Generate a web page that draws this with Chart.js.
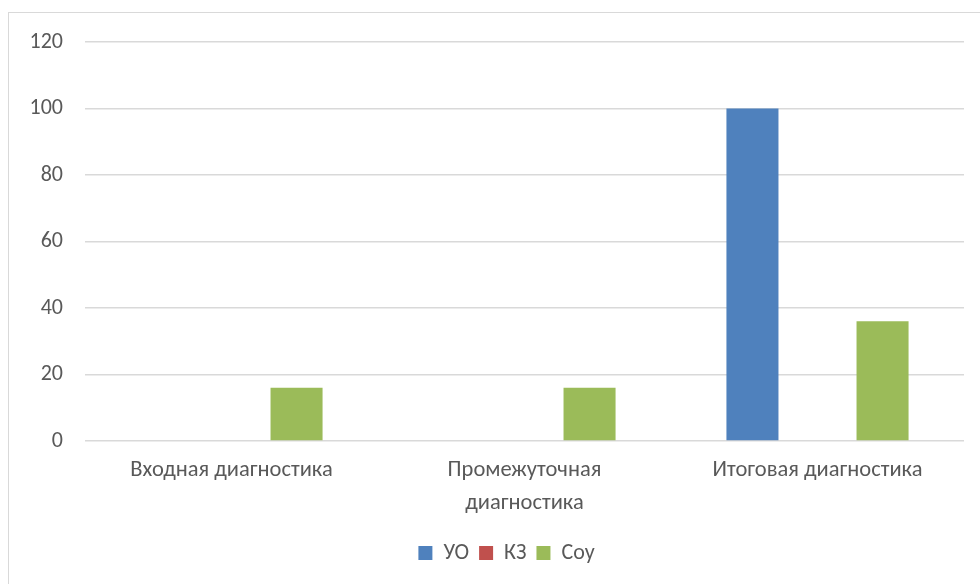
<!DOCTYPE html>
<html>
<head>
<meta charset="utf-8">
<script src="https://cdn.jsdelivr.net/npm/chart.js@4.4.1/dist/chart.umd.min.js"></script>
<style>
    html, body { margin: 0; padding: 0; background: #fff; overflow: hidden; }
    #box {
        position: absolute; left: 8px; top: 12px;
        width: 980px; height: 590px;
        border: 1px solid #d9d9d9;
        box-sizing: border-box;
    }
    #chart { display: block; }
</style>
</head>
<body>
<div id="box"><canvas id="chart" width="978" height="588"></canvas></div>
<script>
// Data
const categories = ['Входная диагностика', ['Промежуточная', 'диагностика'], 'Итоговая диагностика'];
const seriesNames = ['УО', 'КЗ', 'Соу'];
const valuesUO = [0, 0, 100];
const valuesKZ = [0, 0, 0];
const valuesSoy = [16, 16, 36];
const yTicks = [0, 20, 40, 60, 80, 100, 120];

const colors = ['#4f81bd', '#c0504d', '#9bbb59'];
const font = 'Calibri, Carlito, "Open Sans", sans-serif';
const textColor = '#595959';

// the chart frame runs past the right edge, so its legend sits a bit right of the canvas centre
const shiftLegend = {
    id: 'shiftLegend',
    afterLayout(chart) {
        if (chart.legend) {
            chart.legend.left += 20;
            chart.legend.right += 20;
        }
    }
};

const ctx = document.getElementById('chart').getContext('2d');
new Chart(ctx, {
    type: 'bar',
    data: {
        labels: categories,
        datasets: [valuesUO, valuesKZ, valuesSoy].map((vals, i) => ({
            label: seriesNames[i],
            data: vals,
            backgroundColor: colors[i],
            categoryPercentage: 0.666,
            barPercentage: 0.8
        }))
    },
    plugins: [shiftLegend],
    options: {
        responsive: false,
        animation: false,
        layout: { padding: { left: 0, right: 23, top: 29, bottom: 27 } },
        plugins: {
            tooltip: { enabled: false },
            legend: {
                position: 'bottom',
                labels: {
                    boxWidth: 14,
                    boxHeight: 14,
                    padding: 10,
                    color: textColor,
                    font: { family: font, size: 22 }
                }
            }
        },
        scales: {
            x: {
                grid: { display: false, drawTicks: false },
                border: { display: false },
                ticks: {
                    color: textColor,
                    maxRotation: 0,
                    autoSkip: false,
                    padding: 13,
                    font: { family: font, size: 22.5, lineHeight: 1.45 }
                },
                afterFit: s => { s.height = 91; }
            },
            y: {
                min: 0,
                max: 120,
                afterBuildTicks: s => { s.ticks = yTicks.map(v => ({ value: v })); },
                grid: { color: '#d9d9d9', lineWidth: 1.5, drawTicks: false },
                border: { display: false },
                ticks: {
                    color: textColor,
                    padding: 22,
                    font: { family: font, size: 22 }
                },
                afterFit: s => {
                    s.width = 76;
                    s.paddingTop = 0;
                    s.paddingBottom = 0;
                }
            }
        }
    }
});
</script>
</body>
</html>
